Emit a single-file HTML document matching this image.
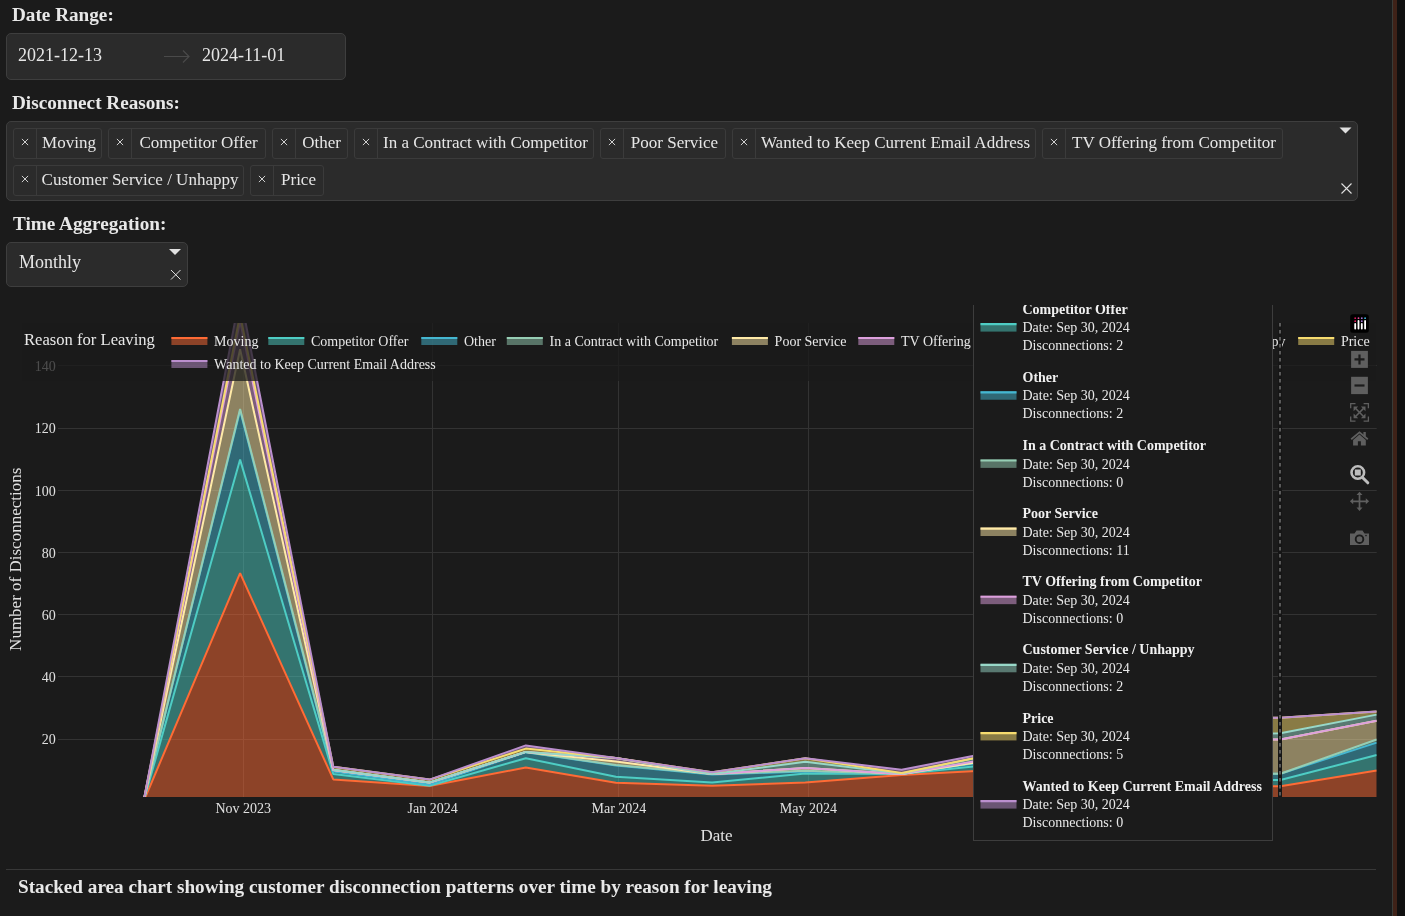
<!DOCTYPE html>
<html><head><meta charset="utf-8">
<style>
html,body{margin:0;padding:0;}
body{width:1405px;height:916px;overflow:hidden;background:#1b1b1b;font-family:"Liberation Serif",serif;color:#e6e6e6;position:relative;}
.abs{position:absolute;}
.lbl{position:absolute;font-weight:bold;font-size:19.2px;line-height:19.2px;white-space:nowrap;color:#e8e8e8;}
.box{position:absolute;background:#2b2b2b;border:1px solid #3e3e3e;border-radius:5px;box-sizing:border-box;}
.tags{position:absolute;left:13px;top:128px;width:1290px;display:flex;flex-wrap:wrap;row-gap:6px;column-gap:6px;}
.tag{display:flex;height:31px;box-sizing:border-box;border:1px solid #3b3b3b;border-radius:3px;background:#2b2b2b;}
.tag .x{width:22px;border-right:1px solid #3b3b3b;position:relative;}
.tag .x svg{position:absolute;left:7px;top:9px;}
.tag .t{padding:0;text-align:center;font-size:17px;line-height:28px;white-space:nowrap;color:#e6e6e6;}
.rb{position:absolute;top:0;height:916px;}
</style></head>
<body>
<div id="wrap" style="position:absolute;left:0;top:0;width:1405px;height:916px;will-change:transform">
<div class="lbl" style="left:12px;top:5px">Date Range:</div>
<div class="box" style="left:6px;top:33px;width:340px;height:47px;"></div>
<div class="abs" style="left:18px;top:46px;font-size:18px;line-height:18px;color:#e6e6e6">2021-12-13</div>
<svg class="abs" style="left:162px;top:49px" width="30" height="14"><path d="M2 7.5H27M21 1.5L27 7.5L21 13.5" stroke="#4a4a4a" stroke-width="1.2" fill="none"/></svg>
<div class="abs" style="left:202px;top:46px;font-size:18px;line-height:18px;color:#e6e6e6">2024-11-01</div>

<div class="lbl" style="left:12px;top:93px">Disconnect Reasons:</div>
<div class="box" style="left:6px;top:121px;width:1352px;height:80px;"></div>
<div class="tags">
<div class="tag"><div class="x"><svg width="8" height="8"><path d="M0.9 0.9L7.1 7.1M7.1 0.9L0.9 7.1" stroke="#d0d0d0" stroke-width="1"/></svg></div><div class="t" style="width:64px">Moving</div></div>
<div class="tag"><div class="x"><svg width="8" height="8"><path d="M0.9 0.9L7.1 7.1M7.1 0.9L0.9 7.1" stroke="#d0d0d0" stroke-width="1"/></svg></div><div class="t" style="width:133px">Competitor Offer</div></div>
<div class="tag"><div class="x"><svg width="8" height="8"><path d="M0.9 0.9L7.1 7.1M7.1 0.9L0.9 7.1" stroke="#d0d0d0" stroke-width="1"/></svg></div><div class="t" style="width:51px">Other</div></div>
<div class="tag"><div class="x"><svg width="8" height="8"><path d="M0.9 0.9L7.1 7.1M7.1 0.9L0.9 7.1" stroke="#d0d0d0" stroke-width="1"/></svg></div><div class="t" style="width:215px">In a Contract with Competitor</div></div>
<div class="tag"><div class="x"><svg width="8" height="8"><path d="M0.9 0.9L7.1 7.1M7.1 0.9L0.9 7.1" stroke="#d0d0d0" stroke-width="1"/></svg></div><div class="t" style="width:101px">Poor Service</div></div>
<div class="tag"><div class="x"><svg width="8" height="8"><path d="M0.9 0.9L7.1 7.1M7.1 0.9L0.9 7.1" stroke="#d0d0d0" stroke-width="1"/></svg></div><div class="t" style="width:279px">Wanted to Keep Current Email Address</div></div>
<div class="tag"><div class="x"><svg width="8" height="8"><path d="M0.9 0.9L7.1 7.1M7.1 0.9L0.9 7.1" stroke="#d0d0d0" stroke-width="1"/></svg></div><div class="t" style="width:216px">TV Offering from Competitor</div></div>
<div class="tag"><div class="x"><svg width="8" height="8"><path d="M0.9 0.9L7.1 7.1M7.1 0.9L0.9 7.1" stroke="#d0d0d0" stroke-width="1"/></svg></div><div class="t" style="width:206px">Customer Service / Unhappy</div></div>
<div class="tag"><div class="x"><svg width="8" height="8"><path d="M0.9 0.9L7.1 7.1M7.1 0.9L0.9 7.1" stroke="#d0d0d0" stroke-width="1"/></svg></div><div class="t" style="width:49px">Price</div></div>
</div>
<svg class="abs" style="left:1338px;top:126px" width="16" height="10"><path d="M1.5 1.5H13.5L7.5 7.5Z" fill="#e0e0e0"/></svg>
<svg class="abs" style="left:1341px;top:183px" width="11" height="11"><path d="M0.5 0.5L10.5 10.5M10.5 0.5L0.5 10.5" stroke="#e0e0e0" stroke-width="1.1"/></svg>

<div class="lbl" style="left:13px;top:214px">Time Aggregation:</div>
<div class="box" style="left:6px;top:242px;width:182px;height:45px;"></div>
<div class="abs" style="left:19px;top:253px;font-size:18px;line-height:18px;color:#e6e6e6">Monthly</div>
<svg class="abs" style="left:168px;top:248px" width="15" height="9"><path d="M1 1H13L7 7Z" fill="#e0e0e0"/></svg>
<svg class="abs" style="left:170px;top:269px" width="12" height="12"><path d="M1 1L10.5 10.5M10.5 1L1 10.5" stroke="#e0e0e0" stroke-width="1"/></svg>

<svg class="abs" style="left:0;top:0" width="1405" height="916">
<defs><clipPath id="pc"><rect x="58" y="323" width="1318.7" height="474"/></clipPath></defs>
<path d="M58 739.5 H1376.7 M58 676.5 H1376.7 M58 614.5 H1376.7 M58 552.5 H1376.7 M58 490.5 H1376.7 M58 428.5 H1376.7 M58 365.5 H1376.7 M243.5 323 V797 M432.5 323 V797 M618.5 323 V797 M808.5 323 V797 M997.5 323 V797 M1190.5 323 V797" stroke="#333333" stroke-width="1" fill="none"/>
<g clip-path="url(#pc)">
<path d="M143.5 801.7 L240.09 573.12 L333.26 779.4 L429.53 786 L525.8 767.5 L615.86 782.8 L712.13 785.7 L805.3 782.6 L901.57 775 L994.73 769.9 L1091 778.53 L1187.27 787.15 L1280.44 786.15 L1376.71 770.6 L1376.71 801.7 L1280.44 801.7 L1187.27 801.7 L1091 801.7 L994.73 801.7 L901.57 801.7 L805.3 801.7 L712.13 801.7 L615.86 801.7 L525.8 801.7 L429.53 801.7 L333.26 801.7 L240.09 801.7 L143.5 801.7 Z" fill="#FF6B35" fill-opacity="0.5"/>
<path d="M143.5 801.7 L240.09 459.6 L333.26 773.9 L429.53 785.8 L525.8 758.2 L615.86 776.7 L712.13 782.4 L805.3 773.6 L901.57 774 L994.73 764.3 L1091 772.62 L1187.27 780.93 L1280.44 779.93 L1376.71 755.05 L1376.71 770.6 L1280.44 786.15 L1187.27 787.15 L1091 778.53 L994.73 769.9 L901.57 775 L805.3 782.6 L712.13 785.7 L615.86 782.8 L525.8 767.5 L429.53 786 L333.26 779.4 L240.09 573.12 L143.5 801.7 Z" fill="#4ECDC4" fill-opacity="0.5"/>
<path d="M143.5 801.7 L240.09 410.46 L333.26 771.6 L429.53 784.6 L525.8 752.2 L615.86 765.5 L712.13 774.5 L805.3 771.5 L901.57 774 L994.73 760.6 L1091 767.65 L1187.27 774.71 L1280.44 773.71 L1376.71 742.61 L1376.71 755.05 L1280.44 779.93 L1187.27 780.93 L1091 772.62 L994.73 764.3 L901.57 774 L805.3 773.6 L712.13 782.4 L615.86 776.7 L525.8 758.2 L429.53 785.8 L333.26 773.9 L240.09 459.6 L143.5 801.7 Z" fill="#45B7D1" fill-opacity="0.5"/>
<path d="M143.5 801.7 L240.09 408.91 L333.26 770 L429.53 782.6 L525.8 751.9 L615.86 765.1 L712.13 774 L805.3 770.8 L901.57 774 L994.73 759.5 L1091 767.11 L1187.27 774.71 L1280.44 773.71 L1376.71 739.5 L1376.71 742.61 L1280.44 773.71 L1187.27 774.71 L1091 767.65 L994.73 760.6 L901.57 774 L805.3 771.5 L712.13 774.5 L615.86 765.5 L525.8 752.2 L429.53 784.6 L333.26 771.6 L240.09 410.46 L143.5 801.7 Z" fill="#96CEB4" fill-opacity="0.5"/>
<path d="M143.5 801.7 L240.09 349.2 L333.26 770 L429.53 782.6 L525.8 751.9 L615.86 761.5 L712.13 774 L805.3 768.1 L901.57 774 L994.73 759.5 L1091 750 L1187.27 740.5 L1280.44 739.5 L1376.71 720.84 L1376.71 739.5 L1280.44 773.71 L1187.27 774.71 L1091 767.11 L994.73 759.5 L901.57 774 L805.3 770.8 L712.13 774 L615.86 765.1 L525.8 751.9 L429.53 782.6 L333.26 770 L240.09 408.91 L143.5 801.7 Z" fill="#FFEAA7" fill-opacity="0.5"/>
<path d="M143.5 801.7 L240.09 321.21 L333.26 770 L429.53 782.6 L525.8 751.9 L615.86 758 L712.13 774 L805.3 768.1 L901.57 774 L994.73 757.8 L1091 749.15 L1187.27 740.5 L1280.44 739.5 L1376.71 720.84 L1376.71 720.84 L1280.44 739.5 L1187.27 740.5 L1091 750 L994.73 759.5 L901.57 774 L805.3 768.1 L712.13 774 L615.86 761.5 L525.8 751.9 L429.53 782.6 L333.26 770 L240.09 349.2 L143.5 801.7 Z" fill="#DDA0DD" fill-opacity="0.5"/>
<path d="M143.5 801.7 L240.09 321.21 L333.26 769.7 L429.53 782.4 L525.8 751.9 L615.86 758 L712.13 774 L805.3 761.8 L901.57 773.5 L994.73 753.9 L1091 744.09 L1187.27 734.28 L1280.44 733.28 L1376.71 714.62 L1376.71 720.84 L1280.44 739.5 L1187.27 740.5 L1091 749.15 L994.73 757.8 L901.57 774 L805.3 768.1 L712.13 774 L615.86 758 L525.8 751.9 L429.53 782.6 L333.26 770 L240.09 321.21 L143.5 801.7 Z" fill="#98D8C8" fill-opacity="0.5"/>
<path d="M143.5 801.7 L240.09 314.99 L333.26 766.7 L429.53 779.6 L525.8 748.6 L615.86 758 L712.13 772.3 L805.3 758.3 L901.57 773 L994.73 753.9 L1091 736.32 L1187.27 718.73 L1280.44 717.73 L1376.71 711.51 L1376.71 714.62 L1280.44 733.28 L1187.27 734.28 L1091 744.09 L994.73 753.9 L901.57 773.5 L805.3 761.8 L712.13 774 L615.86 758 L525.8 751.9 L429.53 782.4 L333.26 769.7 L240.09 321.21 L143.5 801.7 Z" fill="#F7DC6F" fill-opacity="0.5"/>
<path d="M143.5 801.7 L240.09 294.77 L333.26 766.7 L429.53 779.6 L525.8 745.4 L615.86 758 L712.13 772.3 L805.3 758.3 L901.57 769.7 L994.73 751.8 L1091 735.26 L1187.27 718.73 L1280.44 717.73 L1376.71 711.51 L1376.71 711.51 L1280.44 717.73 L1187.27 718.73 L1091 736.32 L994.73 753.9 L901.57 773 L805.3 758.3 L712.13 772.3 L615.86 758 L525.8 748.6 L429.53 779.6 L333.26 766.7 L240.09 314.99 L143.5 801.7 Z" fill="#BB8FCE" fill-opacity="0.5"/>
<path d="M143.5 801.7 L240.09 573.12 L333.26 779.4 L429.53 786 L525.8 767.5 L615.86 782.8 L712.13 785.7 L805.3 782.6 L901.57 775 L994.73 769.9 L1091 778.53 L1187.27 787.15 L1280.44 786.15 L1376.71 770.6" stroke="#FF6B35" stroke-width="2" fill="none" stroke-linejoin="bevel"/>
<path d="M143.5 801.7 L240.09 459.6 L333.26 773.9 L429.53 785.8 L525.8 758.2 L615.86 776.7 L712.13 782.4 L805.3 773.6 L901.57 774 L994.73 764.3 L1091 772.62 L1187.27 780.93 L1280.44 779.93 L1376.71 755.05" stroke="#4ECDC4" stroke-width="2" fill="none" stroke-linejoin="bevel"/>
<path d="M143.5 801.7 L240.09 410.46 L333.26 771.6 L429.53 784.6 L525.8 752.2 L615.86 765.5 L712.13 774.5 L805.3 771.5 L901.57 774 L994.73 760.6 L1091 767.65 L1187.27 774.71 L1280.44 773.71 L1376.71 742.61" stroke="#45B7D1" stroke-width="2" fill="none" stroke-linejoin="bevel"/>
<path d="M143.5 801.7 L240.09 408.91 L333.26 770 L429.53 782.6 L525.8 751.9 L615.86 765.1 L712.13 774 L805.3 770.8 L901.57 774 L994.73 759.5 L1091 767.11 L1187.27 774.71 L1280.44 773.71 L1376.71 739.5" stroke="#96CEB4" stroke-width="2" fill="none" stroke-linejoin="bevel"/>
<path d="M143.5 801.7 L240.09 349.2 L333.26 770 L429.53 782.6 L525.8 751.9 L615.86 761.5 L712.13 774 L805.3 768.1 L901.57 774 L994.73 759.5 L1091 750 L1187.27 740.5 L1280.44 739.5 L1376.71 720.84" stroke="#FFEAA7" stroke-width="2" fill="none" stroke-linejoin="bevel"/>
<path d="M143.5 801.7 L240.09 321.21 L333.26 770 L429.53 782.6 L525.8 751.9 L615.86 758 L712.13 774 L805.3 768.1 L901.57 774 L994.73 757.8 L1091 749.15 L1187.27 740.5 L1280.44 739.5 L1376.71 720.84" stroke="#DDA0DD" stroke-width="2" fill="none" stroke-linejoin="bevel"/>
<path d="M333.26 769.7 L429.53 782.4 L525.8 751.9 L615.86 758 L712.13 774 L805.3 761.8 L901.57 773.5 L994.73 753.9 L1091 744.09 L1187.27 734.28 L1280.44 733.28 L1376.71 714.62" stroke="#98D8C8" stroke-width="2" fill="none" stroke-linejoin="bevel"/>
<path d="M143.5 801.7 L240.09 314.99 L333.26 766.7 L429.53 779.6 L525.8 748.6 L615.86 758 L712.13 772.3 L805.3 758.3 L901.57 773 L994.73 753.9 L1091 736.32 L1187.27 718.73 L1280.44 717.73 L1376.71 711.51" stroke="#F7DC6F" stroke-width="2" fill="none" stroke-linejoin="bevel"/>
<path d="M143.5 801.7 L240.09 294.77 L333.26 766.7 L429.53 779.6 L525.8 745.4 L615.86 758 L712.13 772.3 L805.3 758.3 L901.57 769.7 L994.73 751.8 L1091 735.26 L1187.27 718.73 L1280.44 717.73 L1376.71 711.51" stroke="#BB8FCE" stroke-width="2" fill="none" stroke-linejoin="bevel"/>
</g>
<text x="55.8" y="744.3" text-anchor="end" font-size="14" fill="#e0e0e0">20</text>
<text x="55.8" y="682.1" text-anchor="end" font-size="14" fill="#e0e0e0">40</text>
<text x="55.8" y="619.9" text-anchor="end" font-size="14" fill="#e0e0e0">60</text>
<text x="55.8" y="557.7" text-anchor="end" font-size="14" fill="#e0e0e0">80</text>
<text x="55.8" y="495.5" text-anchor="end" font-size="14" fill="#e0e0e0">100</text>
<text x="55.8" y="433.3" text-anchor="end" font-size="14" fill="#e0e0e0">120</text>
<text x="55.8" y="371.1" text-anchor="end" font-size="14" fill="#e0e0e0">140</text>
<text x="243.2" y="813" text-anchor="middle" font-size="14" fill="#e0e0e0">Nov 2023</text>
<text x="432.64" y="813" text-anchor="middle" font-size="14" fill="#e0e0e0">Jan 2024</text>
<text x="618.97" y="813" text-anchor="middle" font-size="14" fill="#e0e0e0">Mar 2024</text>
<text x="808.4" y="813" text-anchor="middle" font-size="14" fill="#e0e0e0">May 2024</text>
<text x="997.84" y="813" text-anchor="middle" font-size="14" fill="#e0e0e0">Jul 2024</text>
<text x="1190.38" y="813" text-anchor="middle" font-size="14" fill="#e0e0e0">Sep 2024</text>
<text x="716.5" y="841.3" text-anchor="middle" font-size="17" fill="#e0e0e0">Date</text>
<text transform="translate(21.3 559.3) rotate(-90)" text-anchor="middle" font-size="17" fill="#e0e0e0">Number of Disconnections</text>
<rect x="22" y="323" width="1354" height="58" fill="#1b1b1b" fill-opacity="0.75"/>
<text x="24" y="345.1" font-size="16.6" fill="#e8e8e8">Reason for Leaving</text>
<rect x="171.4" y="337" width="36" height="8" fill="#FF6B35" fill-opacity="0.5"/>
<path d="M171.4 338 h36" stroke="#FF6B35" stroke-width="2"/>
<text x="214.1" y="346" font-size="14" fill="#e8e8e8">Moving</text>
<rect x="268.3" y="337" width="36" height="8" fill="#4ECDC4" fill-opacity="0.5"/>
<path d="M268.3 338 h36" stroke="#4ECDC4" stroke-width="2"/>
<text x="311" y="346" font-size="14" fill="#e8e8e8">Competitor Offer</text>
<rect x="421.3" y="337" width="36" height="8" fill="#45B7D1" fill-opacity="0.5"/>
<path d="M421.3 338 h36" stroke="#45B7D1" stroke-width="2"/>
<text x="464" y="346" font-size="14" fill="#e8e8e8">Other</text>
<rect x="506.8" y="337" width="36" height="8" fill="#96CEB4" fill-opacity="0.5"/>
<path d="M506.8 338 h36" stroke="#96CEB4" stroke-width="2"/>
<text x="549.5" y="346" font-size="14" fill="#e8e8e8">In a Contract with Competitor</text>
<rect x="731.9" y="337" width="36" height="8" fill="#FFEAA7" fill-opacity="0.5"/>
<path d="M731.9 338 h36" stroke="#FFEAA7" stroke-width="2"/>
<text x="774.6" y="346" font-size="14" fill="#e8e8e8">Poor Service</text>
<rect x="858.3" y="337" width="36" height="8" fill="#DDA0DD" fill-opacity="0.5"/>
<path d="M858.3 338 h36" stroke="#DDA0DD" stroke-width="2"/>
<text x="901" y="346" font-size="14" fill="#e8e8e8">TV Offering from Competitor</text>
<rect x="1080.6" y="337" width="36" height="8" fill="#98D8C8" fill-opacity="0.5"/>
<path d="M1080.6 338 h36" stroke="#98D8C8" stroke-width="2"/>
<text x="1123.3" y="346" font-size="14" fill="#e8e8e8">Customer Service / Unhappy</text>
<rect x="1298.2" y="337" width="36" height="8" fill="#F7DC6F" fill-opacity="0.5"/>
<path d="M1298.2 338 h36" stroke="#F7DC6F" stroke-width="2"/>
<text x="1340.9" y="346" font-size="14" fill="#e8e8e8">Price</text>
<rect x="171.4" y="360" width="36" height="8" fill="#BB8FCE" fill-opacity="0.5"/>
<path d="M171.4 361 h36" stroke="#BB8FCE" stroke-width="2"/>
<text x="214.1" y="369" font-size="14" fill="#e8e8e8">Wanted to Keep Current Email Address</text>
<path d="M1280 323 V797" stroke="#161616" stroke-width="4"/>
<path d="M1280 323 V797" stroke="#5a5a5a" stroke-width="2" stroke-dasharray="3.5 3.5"/>
</svg>
<div class="abs" style="left:973px;top:305px;width:300px;height:536px;background:#1b1b1b;border:1px solid #3d3d3d;border-top:none;box-sizing:border-box;overflow:hidden">
<svg class="abs" style="left:0;top:0" width="300" height="536">
<rect x="6.5" y="18.1" width="36" height="8.5" fill="#4ECDC4" fill-opacity="0.5"/>
<path d="M6.5 19.2 h36" stroke="#4ECDC4" stroke-width="2.2"/>
<text x="48.5" y="8.7" font-size="14" font-weight="bold" fill="#f0f0f0">Competitor Offer</text>
<text x="48.5" y="27.3" font-size="14" fill="#e8e8e8">Date: Sep 30, 2024</text>
<text x="48.5" y="45.3" font-size="14" fill="#e8e8e8">Disconnections: 2</text>
<rect x="6.5" y="86.24" width="36" height="8.5" fill="#45B7D1" fill-opacity="0.5"/>
<path d="M6.5 87.34 h36" stroke="#45B7D1" stroke-width="2.2"/>
<text x="48.5" y="76.84" font-size="14" font-weight="bold" fill="#f0f0f0">Other</text>
<text x="48.5" y="95.44" font-size="14" fill="#e8e8e8">Date: Sep 30, 2024</text>
<text x="48.5" y="113.44" font-size="14" fill="#e8e8e8">Disconnections: 2</text>
<rect x="6.5" y="154.38" width="36" height="8.5" fill="#96CEB4" fill-opacity="0.5"/>
<path d="M6.5 155.48 h36" stroke="#96CEB4" stroke-width="2.2"/>
<text x="48.5" y="144.98" font-size="14" font-weight="bold" fill="#f0f0f0">In a Contract with Competitor</text>
<text x="48.5" y="163.58" font-size="14" fill="#e8e8e8">Date: Sep 30, 2024</text>
<text x="48.5" y="181.58" font-size="14" fill="#e8e8e8">Disconnections: 0</text>
<rect x="6.5" y="222.52" width="36" height="8.5" fill="#FFEAA7" fill-opacity="0.5"/>
<path d="M6.5 223.62 h36" stroke="#FFEAA7" stroke-width="2.2"/>
<text x="48.5" y="213.12" font-size="14" font-weight="bold" fill="#f0f0f0">Poor Service</text>
<text x="48.5" y="231.72" font-size="14" fill="#e8e8e8">Date: Sep 30, 2024</text>
<text x="48.5" y="249.72" font-size="14" fill="#e8e8e8">Disconnections: 11</text>
<rect x="6.5" y="290.66" width="36" height="8.5" fill="#DDA0DD" fill-opacity="0.5"/>
<path d="M6.5 291.76 h36" stroke="#DDA0DD" stroke-width="2.2"/>
<text x="48.5" y="281.26" font-size="14" font-weight="bold" fill="#f0f0f0">TV Offering from Competitor</text>
<text x="48.5" y="299.86" font-size="14" fill="#e8e8e8">Date: Sep 30, 2024</text>
<text x="48.5" y="317.86" font-size="14" fill="#e8e8e8">Disconnections: 0</text>
<rect x="6.5" y="358.8" width="36" height="8.5" fill="#98D8C8" fill-opacity="0.5"/>
<path d="M6.5 359.9 h36" stroke="#98D8C8" stroke-width="2.2"/>
<text x="48.5" y="349.4" font-size="14" font-weight="bold" fill="#f0f0f0">Customer Service / Unhappy</text>
<text x="48.5" y="368" font-size="14" fill="#e8e8e8">Date: Sep 30, 2024</text>
<text x="48.5" y="386" font-size="14" fill="#e8e8e8">Disconnections: 2</text>
<rect x="6.5" y="426.94" width="36" height="8.5" fill="#F7DC6F" fill-opacity="0.5"/>
<path d="M6.5 428.04 h36" stroke="#F7DC6F" stroke-width="2.2"/>
<text x="48.5" y="417.54" font-size="14" font-weight="bold" fill="#f0f0f0">Price</text>
<text x="48.5" y="436.14" font-size="14" fill="#e8e8e8">Date: Sep 30, 2024</text>
<text x="48.5" y="454.14" font-size="14" fill="#e8e8e8">Disconnections: 5</text>
<rect x="6.5" y="495.08" width="36" height="8.5" fill="#BB8FCE" fill-opacity="0.5"/>
<path d="M6.5 496.18 h36" stroke="#BB8FCE" stroke-width="2.2"/>
<text x="48.5" y="485.68" font-size="14" font-weight="bold" fill="#f0f0f0">Wanted to Keep Current Email Address</text>
<text x="48.5" y="504.28" font-size="14" fill="#e8e8e8">Date: Sep 30, 2024</text>
<text x="48.5" y="522.28" font-size="14" fill="#e8e8e8">Disconnections: 0</text>
</svg></div>
<svg class="abs" style="left:1345px;top:310px" width="30" height="240">
<rect x="5.2" y="4.2" width="18.6" height="18.6" rx="2.5" fill="#000"/>
<g fill="#fff"><rect x="9.3" y="13" width="1.8" height="6.5" rx="0.9"/><rect x="12.6" y="10" width="1.8" height="9.5" rx="0.9"/><rect x="15.9" y="13" width="1.8" height="6.5" rx="0.9"/><rect x="19.2" y="10" width="1.8" height="9.5" rx="0.9"/></g>
<circle cx="10.2" cy="8.2" r="0.9" fill="#e0145a"/><circle cx="13.5" cy="8.2" r="0.9" fill="#e64ea0"/><circle cx="16.8" cy="8.2" r="0.9" fill="#a877d9"/><circle cx="20.1" cy="8.2" r="0.9" fill="#40c0e8"/>
<circle cx="10.2" cy="11.2" r="0.9" fill="#e0145a"/><circle cx="16.8" cy="11.2" r="0.9" fill="#a877d9"/>
<rect x="6.1" y="40.9" width="16.8" height="17" fill="#5f5f5f"/><path d="M9.5 49.4h10M14.5 44.4v10" stroke="#1b1b1b" stroke-width="2.2"/>
<rect x="6.1" y="66.8" width="16.8" height="17.3" fill="#5f5f5f"/><path d="M9.5 75.5h10" stroke="#1b1b1b" stroke-width="2.2"/>
<path d="M5.7 98.3V93.7H10.5M18.6 93.7H23.4V98.3M23.4 106.5V111.1H18.6M10.5 111.1H5.7V106.5" stroke="#5f5f5f" stroke-width="1.3" fill="none"/>
<path d="M10.8 98.6L18.3 106.2M18.3 98.6L10.8 106.2" stroke="#5f5f5f" stroke-width="1.5"/>
<path d="M8.6 96.6h4.6l-4.6 4.6zM20.5 96.6h-4.6l4.6 4.6zM20.5 108.2h-4.6l4.6-4.6zM8.6 108.2h4.6l-4.6-4.6z" fill="#5f5f5f"/>
<path d="M6.2 129.2L14.5 122.3L22.8 129.2" stroke="#5f5f5f" stroke-width="1.8" fill="none"/>
<rect x="18.4" y="122" width="2.4" height="4.6" fill="#5f5f5f"/>
<path d="M8.1 129.9L14.5 124.6L20.8 129.9V135.4H15.9V131.2H12.9V135.4H8.1Z" fill="#5f5f5f"/>
<circle cx="12.8" cy="162.5" r="6.3" fill="none" stroke="#bdbdbd" stroke-width="2.6"/><rect x="9.8" y="159.5" width="6" height="6" fill="#bdbdbd"/><path d="M17.5 167.5l5.3 5.3" stroke="#bdbdbd" stroke-width="3" stroke-linecap="round"/>
<path d="M14.5 184V198.6M7.2 191.3H21.8" stroke="#5f5f5f" stroke-width="1.7"/>
<path d="M14.5 181.7l3 3.3h-6zM14.5 200.9l3-3.3h-6zM4.9 191.3l3.3-3v6zM24.1 191.3l-3.3-3v6z" fill="#5f5f5f"/>
<path d="M5 223.5h4.5l2-3h6l2 3h4.5v11.5h-19z" fill="#5f5f5f"/><circle cx="14.5" cy="229.2" r="3.8" fill="none" stroke="#1b1b1b" stroke-width="1.9"/><circle cx="21" cy="225.6" r="0.8" fill="#1b1b1b"/>
</svg>

<div class="abs" style="left:6px;top:869px;width:1370px;height:1px;background:#383838"></div>
<div class="abs" style="left:18px;top:877px;font-size:19.2px;line-height:19.2px;font-weight:bold;color:#e8e8e8;white-space:nowrap">Stacked area chart showing customer disconnection patterns over time by reason for leaving</div>
<!-- right stripe -->
<div class="rb" style="left:1392px;width:1px;background:#3a3c38"></div>
<div class="rb" style="left:1393px;width:4px;background:#3f2218"></div>
<div class="rb" style="left:1397px;width:8px;background:#101010"></div>
</div>
</body></html>
